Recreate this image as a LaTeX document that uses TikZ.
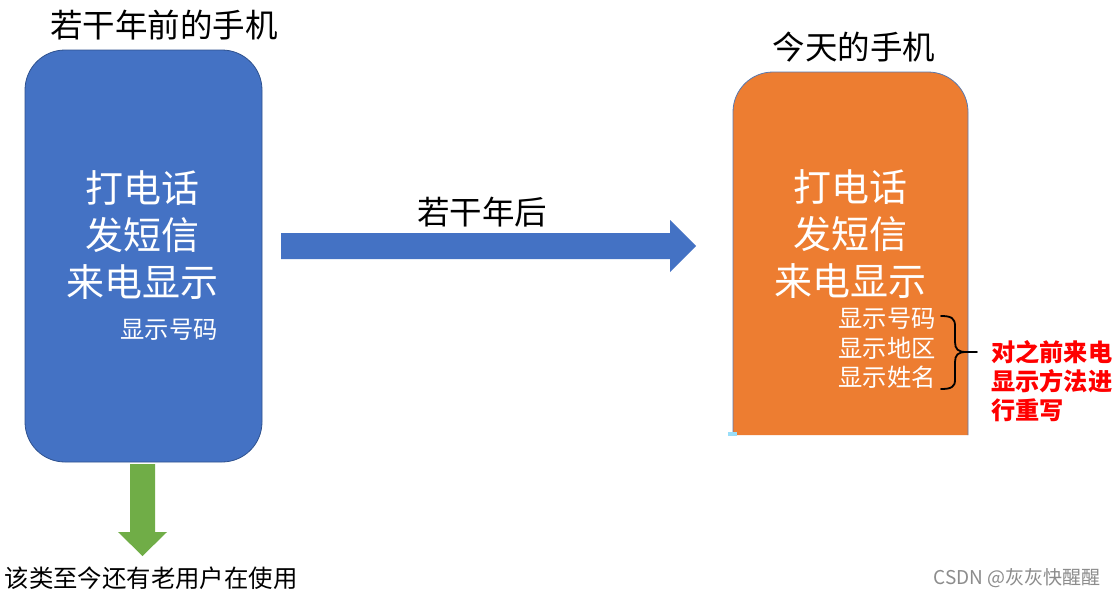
\documentclass[tikz,border=0pt]{standalone}
\usepackage{fontspec}
\newfontfamily\cjk{Noto Sans CJK SC}
\setmainfont{Noto Sans CJK SC}
\definecolor{pblue}{HTML}{4472C4}
\definecolor{pblueb}{HTML}{2F528F}
\definecolor{porange}{HTML}{ED7D31}
\definecolor{pgreen}{HTML}{70AD47}
\definecolor{pborder}{HTML}{5A79AE}
\begin{document}
\begin{tikzpicture}[x=1pt,y=-1pt,
  lbl/.style={inner sep=0pt, font=\cjk\fontsize{32.5}{32.5}\selectfont, text=black},
  big/.style={inner sep=0pt, font=\cjk\fontsize{38}{38}\selectfont, text=white},
  small/.style={inner sep=0pt, font=\cjk\fontsize{24.3}{24.3}\selectfont, text=white},
  red/.style={inner sep=0pt, font=\cjk\bfseries\fontsize{24.2}{24.2}\selectfont, text=red, anchor=west}]
\useasboundingbox[fill=white] (0,0) rectangle (1118,597);
% old phone
\node[draw=pblueb, fill=pblue, line width=0.8pt, rounded corners=40pt,
      minimum width=237pt, minimum height=412pt, inner sep=0pt] (old) at (143.5,256) {};
\node[lbl] (oldt) at (164,25) {若干年前的手机};
\node[big] (o1) at (142,188) {打电话};
\node[big] (o2) at (142,235) {发短信};
\node[big] (o3) at (142,282) {来电显示};
\node[small] (o4) at (169,330) {显示号码};
% new phone
\filldraw[fill=porange, draw=pborder, line width=0.8pt, rounded corners=40pt]
  (733,435) -- (733,72) -- (968,72) -- (968,435);
\fill[cyan!40] (728,432) rectangle (737,436);
\coordinate (newtop) at (850.5,72);
\node[lbl] (newt) at (854,47) {今天的手机};
\node[big] (n1) at (850,187) {打电话};
\node[big] (n2) at (850,234) {发短信};
\node[big] (n3) at (850,281) {来电显示};
\node[small, anchor=east] (n4) at (936,319) {显示号码};
\node[small, anchor=east] (n5) at (936,348) {显示地区};
\node[small, anchor=east] (n6) at (936,377) {显示姓名};
% brace
\draw[line width=1.8pt, line cap=round]
  (941,316) .. controls (951,316) and (955,318) .. (955,326) -- (955,342)
  .. controls (955,349) and (958,352) .. (966,352) -- (977,352);
\draw[line width=1.8pt, line cap=round]
  (966,352) .. controls (958,352) and (955,355) .. (955,362) -- (955,380)
  .. controls (955,387) and (951,389) .. (941,389);
\node[red] (r1) at (991,352) {对之前来电};
\node[red] (r2) at (991,381) {显示方法进};
\node[red] (r3) at (991,410) {行重写};
% horizontal arrow
\fill[pblue] (281,233) -- (670,233) -- (670,220) -- (696,246) -- (670,272) -- (670,259) -- (281,259) -- cycle;
\node[lbl] (after) at (482,212) {若干年后};
% green arrow
\fill[pgreen] (130,464) -- (155,464) -- (155,532) -- (167,532) -- (142.5,556) -- (118,532) -- (130,532) -- cycle;
\node[inner sep=0pt, font=\cjk\fontsize{24.4}{24.4}\selectfont] (still) at (151,578) {该类至今还有老用户在使用};
% watermark
\node[inner sep=0pt, font=\cjk\fontsize{19}{19}\selectfont, text=black!45] (wm) at (1017,578) {CSDN @灰灰快醒醒};
\end{tikzpicture}
\end{document}
